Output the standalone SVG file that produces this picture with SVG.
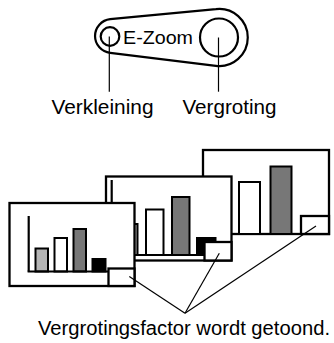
<svg xmlns="http://www.w3.org/2000/svg" width="334" height="343" viewBox="0 0 334 343">
<style>
.t{font-family:"Liberation Sans",Arial,sans-serif;fill:#000}
.ln{stroke:#000;stroke-width:1.2;fill:none}
.ol{stroke:#000;stroke-width:2.2;fill:none}
.pn{stroke:#000;stroke-width:2.3;fill:#fff}
.bar{stroke:#000;stroke-width:2}
.lg{fill:#b5b5b5}.dg{fill:#777}.wh{fill:#fff}.bk{fill:#000}
</style>
<rect width="334" height="343" fill="#fff"/>
<g id="dial">
<path class="ol" d="M110.2 19.1 L215.9 9.2 A28.5 28.5 0 1 1 215.9 65.8 L110.2 52.9 A17 17 0 0 1 110.2 19.1 Z"/>
<circle class="ol" cx="110" cy="36.5" r="9.3"/>
<circle class="ol" cx="219" cy="37.5" r="19"/>
<text class="t" x="123" y="43.5" font-size="18.5" textLength="70" lengthAdjust="spacingAndGlyphs">E-Zoom</text>
</g>
<g id="label-verkleining">
<text class="t" x="51.5" y="114" font-size="20" textLength="102" lengthAdjust="spacingAndGlyphs">Verkleining</text>
</g>
<g id="label-vergroting">
<text class="t" x="182.5" y="114" font-size="20" textLength="94" lengthAdjust="spacingAndGlyphs">Vergroting</text>
</g>
<g id="panel-back">
<rect class="pn" x="203" y="150" width="126" height="84"/>
<rect class="bar wh" x="239" y="182" width="21" height="52"/>
<rect class="bar dg" x="270.5" y="166.5" width="21" height="67.5"/>
<rect class="pn" x="301" y="216" width="28" height="18"/>
</g>
<g id="panel-middle">
<rect class="pn" x="106" y="176.5" width="125.5" height="84"/>
<line class="ol" x1="111.7" y1="180" x2="111.7" y2="255"/>
<rect class="bar lg" x="120" y="224" width="17.5" height="31"/>
<rect class="bar wh" x="146" y="209.5" width="17.5" height="45.5"/>
<rect class="bar dg" x="172" y="197" width="17.5" height="58"/>
<rect class="bar bk" x="197" y="238" width="18.5" height="17"/>
<line class="ol" x1="111" y1="255" x2="205" y2="255"/>
<rect class="pn" x="204.5" y="242" width="27" height="18.5"/>
</g>
<g id="panel-front">
<rect class="pn" x="9.5" y="203" width="125" height="83"/>
<line class="ol" x1="28.7" y1="216" x2="28.7" y2="271.5"/>
<rect class="bar lg" x="35.5" y="248.5" width="12.5" height="23"/>
<rect class="bar wh" x="54.5" y="238" width="12.5" height="33.5"/>
<rect class="bar dg" x="73.5" y="229" width="12.5" height="42.5"/>
<rect class="bar bk" x="92.5" y="259" width="13" height="12.5"/>
<line class="ol" x1="27.6" y1="271.5" x2="109" y2="271.5"/>
<rect class="pn" x="108.5" y="268.5" width="26" height="17.5"/>
</g>
<g id="connectors">
<line class="ln" x1="109.3" y1="36.5" x2="109.3" y2="91.7"/>
<line class="ln" x1="218.5" y1="37.5" x2="218.5" y2="91.7"/>
<line class="ln" x1="129.3" y1="276.5" x2="185" y2="313.3"/>
<line class="ln" x1="219.3" y1="253.3" x2="185" y2="313.3"/>
<line class="ln" x1="316" y1="226" x2="185" y2="313.3"/>
</g>
<g id="caption">
<text class="t" x="38" y="334.5" font-size="20" textLength="292" lengthAdjust="spacingAndGlyphs">Vergrotingsfactor wordt getoond.</text>
</g>
</svg>
